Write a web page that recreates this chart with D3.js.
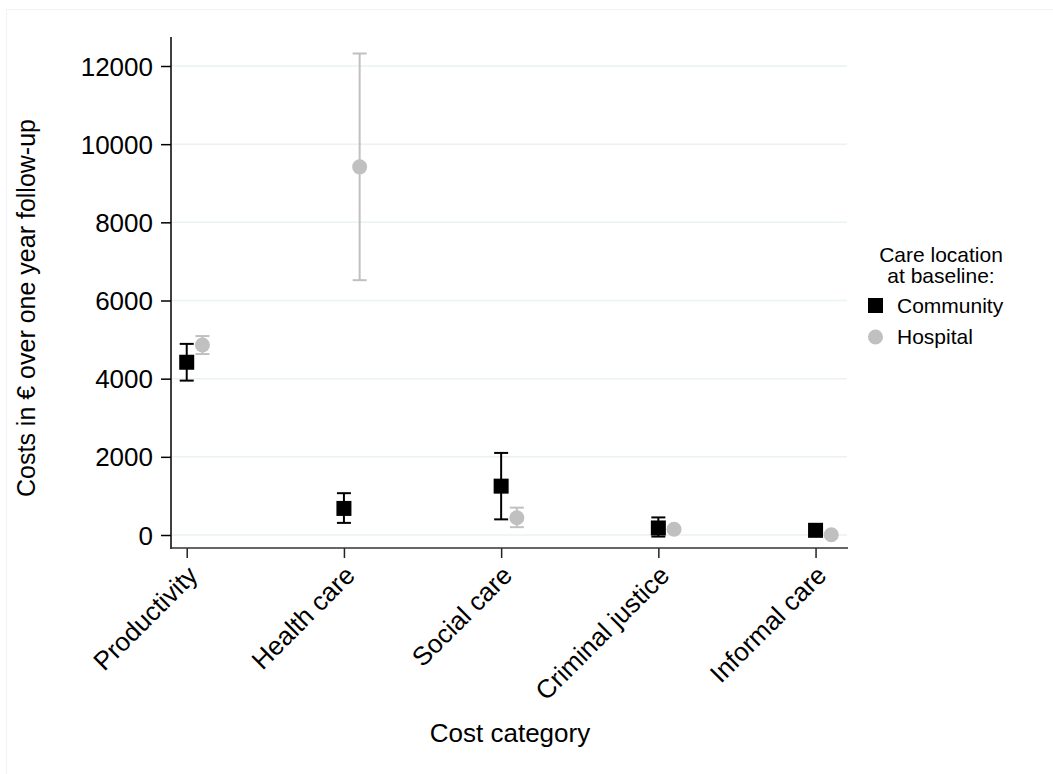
<!DOCTYPE html>
<html>
<head>
<meta charset="utf-8">
<script src="https://cdn.jsdelivr.net/npm/d3@7"></script>
<style>
  body { margin: 0; background: #fff; }
  text { font-family: "Liberation Sans", Arial, sans-serif; fill: #000; }
</style>
</head>
<body>
<div id="chart"></div>
<script>
// cost categories on the x axis
const categories = ['Productivity', 'Health care', 'Social care', 'Criminal justice', 'Informal care'];
const yTicks = [0, 2000, 4000, 6000, 8000, 10000, 12000];

// means and 95% CI
const communityMean = [4420, 680, 1250, 180, 120];
const communityLow  = [3950, 310, 400, -40, 120];
const communityHigh = [4890, 1070, 2100, 450, 120];

const hospitalMean = [4860, 9420, 440, 146, 8];
const hospitalLow  = [4630, 6520, 200, 90, 8];
const hospitalHigh = [5090, 12320, 700, 200, 8];

const series = [
    { name: 'Community', color: '#000', mean: communityMean, low: communityLow, high: communityHigh, offset: 0, shape: 'square' },
    { name: 'Hospital', color: '#c0c0c0', mean: hospitalMean, low: hospitalLow, high: hospitalHigh, offset: 0.1, shape: 'circle' }
];

const width = 1053, height = 774;
const svg = d3.select('#chart').append('svg')
    .attr('width', width)
    .attr('height', height);

// outer frame
svg.append('rect')
    .attr('x', 6.5).attr('y', 9.5)
    .attr('width', 1060).attr('height', 780)
    .attr('fill', 'none')
    .attr('stroke', '#eef3f3');

const x = d3.scaleLinear().domain([0.9, 5.2]).range([171, 847]);
const y = d3.scaleLinear().domain([0, 12000]).range([535, 66]);

// gridlines
svg.append('g')
    .selectAll('line')
    .data(yTicks)
    .enter().append('line')
    .attr('x1', 172).attr('x2', 847)
    .attr('y1', d => y(d)).attr('y2', d => y(d))
    .attr('stroke', '#eaf2f3')
    .attr('stroke-width', 1.5);

// y axis
const yAxis = svg.append('g')
    .attr('transform', 'translate(171,0)')
    .call(d3.axisLeft(y).tickValues(yTicks).tickSize(10).tickPadding(8).tickFormat(d3.format('d')));
yAxis.select('.domain').remove();
yAxis.selectAll('.tick line').attr('stroke', '#000').attr('stroke-width', 1.5);
yAxis.selectAll('.tick text').style('font-size', '26px').attr('dy', '0.35em');
svg.append('line')
    .attr('x1', 171).attr('x2', 171)
    .attr('y1', 37).attr('y2', 549)
    .attr('stroke', '#000').attr('stroke-width', 1.5);

// x axis
const xAxis = svg.append('g')
    .attr('transform', 'translate(0,548)')
    .call(d3.axisBottom(x).tickValues([1, 2, 3, 4, 5]).tickSize(10).tickFormat(d => categories[d - 1]));
xAxis.select('.domain').remove();
xAxis.selectAll('.tick line').attr('stroke', '#222').attr('stroke-width', 1.5);
xAxis.selectAll('.tick text')
    .style('font-size', '26px')
    .attr('text-anchor', 'end')
    .attr('dy', null)
    .attr('x', -12)
    .attr('y', 29)
    .attr('transform', 'rotate(-45)');
svg.append('line')
    .attr('x1', 170).attr('x2', 848)
    .attr('y1', 548).attr('y2', 548)
    .attr('stroke', '#333').attr('stroke-width', 1.5);

// error bars and markers
series.forEach(s => {
    const g = svg.append('g');
    const idx = d3.range(categories.length);
    const cx = i => x(i + 1 + s.offset);

    g.selectAll('line.v').data(idx).enter().append('line')
        .attr('x1', cx).attr('x2', cx)
        .attr('y1', i => y(s.low[i])).attr('y2', i => y(s.high[i]))
        .attr('stroke', s.color).attr('stroke-width', 2);
    ['low', 'high'].forEach(k => {
        g.selectAll('line.' + k).data(idx.filter(i => s.low[i] !== s.high[i])).enter().append('line')
            .attr('x1', i => cx(i) - 7).attr('x2', i => cx(i) + 7)
            .attr('y1', i => y(s[k][i])).attr('y2', i => y(s[k][i]))
            .attr('stroke', s.color).attr('stroke-width', 2);
    });

    if (s.shape === 'square') {
        g.selectAll('rect').data(idx).enter().append('rect')
            .attr('x', i => cx(i) - 7.5).attr('y', i => y(s.mean[i]) - 7.5)
            .attr('width', 15).attr('height', 15)
            .attr('fill', s.color);
    } else {
        g.selectAll('circle').data(idx).enter().append('circle')
            .attr('cx', cx).attr('cy', i => y(s.mean[i]))
            .attr('r', 7.5)
            .attr('fill', s.color);
    }
});

// axis titles
svg.append('text')
    .attr('transform', 'translate(35,308) rotate(-90)')
    .attr('text-anchor', 'middle')
    .style('font-size', '25px')
    .text('Costs in € over one year follow-up');
svg.append('text')
    .attr('x', 510).attr('y', 742)
    .attr('text-anchor', 'middle')
    .style('font-size', '26px')
    .text('Cost category');

// legend
const legend = svg.append('g');
legend.append('text').attr('x', 941).attr('y', 262).attr('text-anchor', 'middle')
    .style('font-size', '21px').text('Care location');
legend.append('text').attr('x', 941).attr('y', 283).attr('text-anchor', 'middle')
    .style('font-size', '21px').text('at baseline:');
legend.append('rect').attr('x', 868).attr('y', 298).attr('width', 15).attr('height', 15).attr('fill', '#000');
legend.append('text').attr('x', 897).attr('y', 313).style('font-size', '21px').text('Community');
legend.append('circle').attr('cx', 875.5).attr('cy', 337).attr('r', 7.5).attr('fill', '#c0c0c0');
legend.append('text').attr('x', 897).attr('y', 344).style('font-size', '21px').text('Hospital');
</script>
</body>
</html>
